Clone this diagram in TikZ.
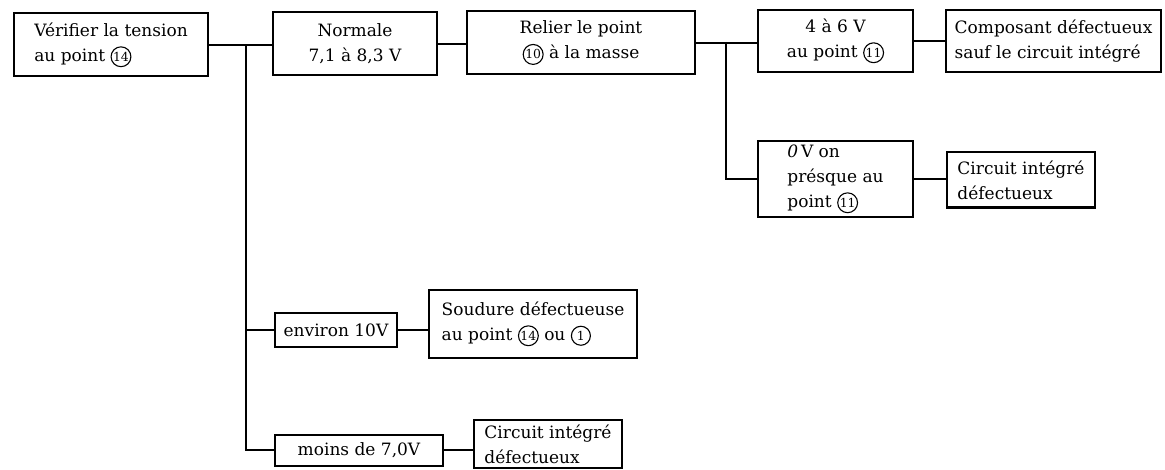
\documentclass[tikz,border=0pt]{standalone}
\usepackage{fontspec}
\setmainfont{DejaVu Serif}
\usepackage{tikz}
\usetikzlibrary{positioning}

% circled point number
\newcommand{\pnum}[1]{\tikz[baseline=(pn.base)]\node[draw,circle,line width=0.55pt,inner sep=0.3pt,minimum size=9.5pt,font=\fontsize{6.2}{6.2}\selectfont](pn){#1};}

\begin{document}
\begin{tikzpicture}[x=0.5pt, y=-0.5pt,
  box/.style={draw, line width=1pt, inner sep=2pt,
              font=\fontsize{8.5}{12.5}\selectfont},
  ctr/.style={box, align=center},
  lft/.style={box, align=left},
  link/.style={line width=1pt},
]
\useasboundingbox (0,0) rectangle (1165,470);

% --- Main row ---
\node[lft, minimum width=97pt, minimum height=31.5pt] (chk) at (111,45) {Vérifier la tension\\au point \pnum{14}};
\node[ctr, minimum width=82pt, minimum height=31.5pt] (norm) at (355,44) {Normale\\7,1 à 8,3 V};
\node[ctr, minimum width=114pt, minimum height=31.5pt] (mass) at (581,43) {Relier le point\\\pnum{10} à la masse};
\node[ctr, minimum width=77.5pt, minimum height=31pt] (v46) at (835.5,41) {4 à 6 V\\au point \pnum{11}};
\node[lft, minimum width=107.5pt, minimum height=31pt] (comp) at (1053.5,41) {Composant défectueux\\sauf le circuit intégré};

% --- Branch after grounding ---
\node[lft, minimum width=77.5pt, minimum height=37pt] (v0) at (835.5,179) {\textit{0}\,V on\\présque au\\point \pnum{11}};
\node[lft, minimum width=74pt, minimum height=27.5pt] (ci1) at (1021,180) {Circuit intégré\\défectueux};

% --- Other voltages ---
\node[ctr, minimum width=61pt, minimum height=17pt] (env) at (336,330) {environ 10V};
\node[lft, minimum width=104pt, minimum height=34pt] (soud) at (533,324) {Soudure défectueuse\\au point \pnum{14} ou \pnum{1}};
\node[ctr, minimum width=84pt, minimum height=15.5pt] (moins) at (359,450) {moins de 7,0V};
\node[lft, minimum width=74pt, minimum height=24pt] (ci2) at (548,444) {Circuit intégré\\défectueux};

% --- Junctions ---
\coordinate (j1) at (246,45);
\coordinate (j2) at (726,42);

% --- Links ---
\draw[link] (chk.east) -- (chk.east -| norm.west);
\draw[link] (norm.east) -- (norm.east -| mass.west);
\draw[link] (mass.east) -- (mass.east -| v46.west);
\draw[link] (v46.east) -- (v46.east -| comp.west);
\draw[link] (j2) |- (v0.west);
\draw[link] (v0.east) -- (v0.east -| ci1.west);
\draw[link] (j1) |- (env.west);
\draw[link] (j1) |- (moins.west);
\draw[link] (env.east) -- (env.east -| soud.west);
\draw[link] (moins.east) -- (moins.east -| ci2.west);
\end{tikzpicture}
\end{document}
